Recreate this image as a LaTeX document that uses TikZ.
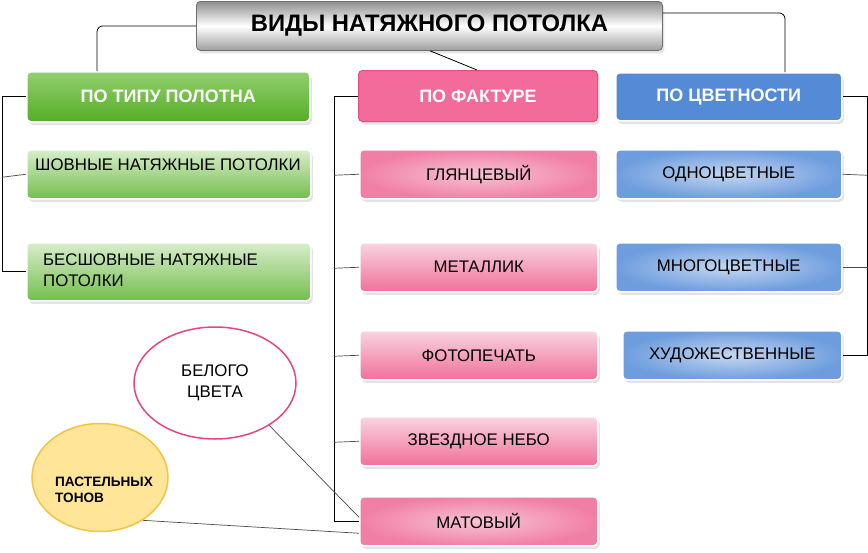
\documentclass[tikz,border=0pt]{standalone}
\usepackage{fontspec}
\setmainfont{Liberation Sans}
\usetikzlibrary{shadows,shapes.geometric,calc}
\definecolor{gTop}{HTML}{92CF6E}\definecolor{gBot}{HTML}{55AD26}
\definecolor{giTop}{HTML}{D8EDCC}\definecolor{giBot}{HTML}{74BE4C}
\definecolor{pHead}{HTML}{F26B9A}\definecolor{pEdge}{HTML}{EC4A85}
\definecolor{piTop}{HTML}{F9D4E1}\definecolor{piBot}{HTML}{F07099}
\definecolor{piIn}{HTML}{F7C4D6}\definecolor{piOut}{HTML}{F17FA5}
\definecolor{bHead}{HTML}{558BD6}
\definecolor{biIn}{HTML}{C5D7F0}\definecolor{biOut}{HTML}{6E9DDE}
\definecolor{tGray}{HTML}{8E8E8E}\definecolor{tEdge}{HTML}{6E6E6E}
\definecolor{elEdge}{HTML}{E8457A}
\definecolor{ylFill}{HTML}{FFE597}\definecolor{ylEdge}{HTML}{F5C242}
\begin{document}
\begin{tikzpicture}[x=1pt,y=-1pt,
  box/.style={rounded corners=4pt, inner sep=0pt, anchor=north west,
    draw=white, line width=1.5pt,
    drop shadow={shadow xshift=2pt, shadow yshift=-3pt, opacity=0.22}},
  headtxt/.style={text=white, font=\fontsize{18}{20}\selectfont\bfseries},
  itemtxt/.style={font=\fontsize{16.8}{21}\selectfont},
  greenhead/.style={box, top color=gTop, bottom color=gBot},
  greenitem/.style={box, top color=giTop, bottom color=giBot},
  pinkhead/.style={box, fill=pHead, draw=pEdge, line width=1pt},
  pinkitem/.style={box, top color=piTop, bottom color=piBot},
  pinkrad/.style={box, inner color=piIn, outer color=piOut},
  bluehead/.style={box, fill=bHead},
  blueitem/.style={box, inner color=biIn, outer color=biOut},
  conn/.style={black, line width=0.8pt},
  thin/.style={black!70, line width=0.7pt}
]
\useasboundingbox (0,0) rectangle (868,552);
\fill[white] (0,0) rectangle (868,552);

% title
\node[box, draw=tEdge, line width=0.8pt, top color=tGray, bottom color=tGray!85, middle color=white,
  minimum width=466pt, minimum height=49pt, font=\fontsize{23.8}{26}\selectfont\bfseries] (title) at (196,1) {ВИДЫ НАТЯЖНОГО ПОТОЛКА};

% headers
\node[greenhead, minimum width=283pt, minimum height=50pt, headtxt] (green) at (26,71) {ПО ТИПУ ПОЛОТНА};
\node[pinkhead, minimum width=239pt, minimum height=51pt, headtxt] (pink) at (358,70) {ПО ФАКТУРЕ};
\node[bluehead, minimum width=226pt, minimum height=48pt, headtxt] (blue) at (615,72) {ПО ЦВЕТНОСТИ};

% green items
\node[greenitem, minimum width=284pt, minimum height=49pt] (g1) at (26,149) {};
\node[itemtxt, anchor=west, inner sep=0pt] (g1t) at (35,165) {ШОВНЫЕ НАТЯЖНЫЕ ПОТОЛКИ};
\node[greenitem, minimum width=284pt, minimum height=58pt] (g2) at (26,242) {};
\node[itemtxt, anchor=west, align=left, inner sep=0pt] (g2t) at (43,270) {БЕСШОВНЫЕ НАТЯЖНЫЕ\\ПОТОЛКИ};

% pink items
\node[pinkrad, minimum width=238pt, minimum height=49pt, itemtxt] (p1) at (359,149) {ГЛЯНЦЕВЫЙ};
\node[pinkitem, minimum width=238pt, minimum height=49pt, itemtxt] (p2) at (359,242) {МЕТАЛЛИК};
\node[pinkitem, minimum width=238pt, minimum height=49pt, itemtxt] (p3) at (359,330) {ФОТОПЕЧАТЬ};
\node[pinkitem, minimum width=238pt, minimum height=49pt, itemtxt] (p4) at (359,416) {ЗВЕЗДНОЕ НЕБО};
\node[pinkrad, minimum width=238pt, minimum height=49pt, itemtxt] (p5) at (359,496) {МАТОВЫЙ};

% blue items
\node[blueitem, minimum width=226pt, minimum height=49pt, itemtxt] (b1) at (615,149) {ОДНОЦВЕТНЫЕ};
\node[blueitem, minimum width=226pt, minimum height=49pt, itemtxt] (b2) at (615,242) {МНОГОЦВЕТНЫЕ};
\node[blueitem, minimum width=219pt, minimum height=49pt, itemtxt] (b3) at (622,330) {ХУДОЖЕСТВЕННЫЕ};

% bubbles
\node[ellipse, draw=elEdge, line width=1.5pt, fill=white, minimum width=162pt, minimum height=112pt,
  align=center, itemtxt] (white) at (215,383) {БЕЛОГО\\ЦВЕТА};
\node[ellipse, draw=ylEdge, line width=1.5pt, fill=ylFill, minimum width=136pt, minimum height=108pt,
  inner sep=0pt] (pastel) at (100,477.5) {};
\node[anchor=west, align=left, inner sep=0pt, font=\fontsize{13.6}{16}\selectfont\bfseries] (pastelt) at (55,490) {ПАСТЕЛЬНЫХ\\ТОНОВ};

% title connectors
\draw[conn, rounded corners=6pt] (title.west) -| ([xshift=71pt]green.north west);
\draw[conn, rounded corners=6pt] ([yshift=13pt]title.east) -| ([xshift=170pt]blue.north west);
\draw[conn] ([xshift=234pt]title.south west) -- ([xshift=119pt]pink.north west);

% green bracket
\draw[conn] (green.west) -- ++(-24,0) |- (g2.west);
\draw[thin] (g1.west) -- ++(-24,3);
% pink bracket
\draw[conn] (pink.west) -- ++(-24,0) |- (p5.west);
\foreach \n in {p1,p2,p3,p4} \draw[thin] (\n.west) -- ++(-25,1);
% blue bracket
\draw[conn] (blue.east) -- ++(25,0) |- (b3.east);
\draw[thin] (b1.east) -- ++(25,1);
\draw[thin] (b2.east) -- ++(25,0);

% bubble connectors
\draw[thin] (white.-38) -- ([yshift=4pt]p5.west);
\draw[thin] (pastel.-45) -- ([yshift=-12pt]p5.west);
\end{tikzpicture}
\end{document}
